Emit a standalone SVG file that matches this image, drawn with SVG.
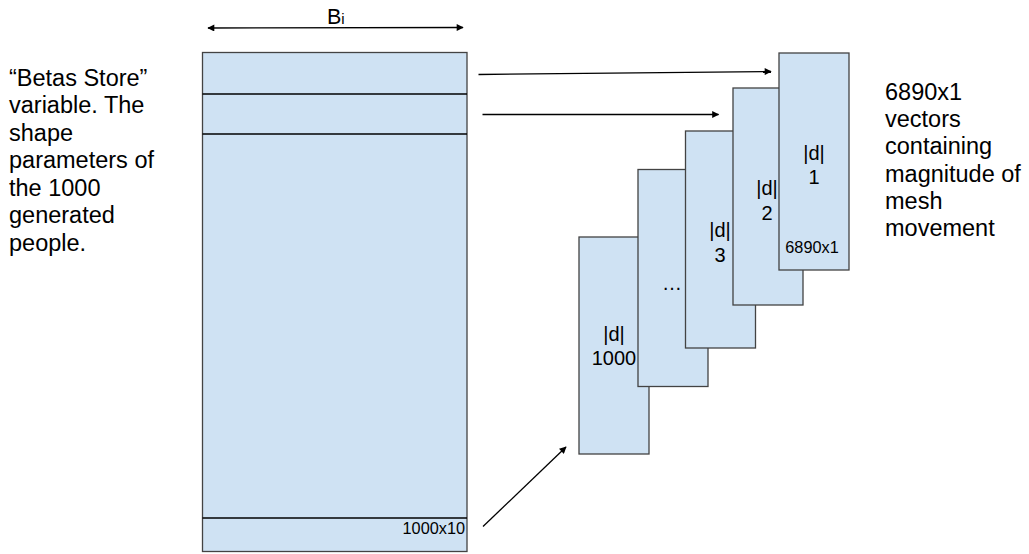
<svg xmlns="http://www.w3.org/2000/svg" width="1029" height="554" viewBox="0 0 1029 554">
  <defs>
    <marker id="head" viewBox="0 0 10 10" refX="9" refY="5" markerWidth="8" markerHeight="7" markerUnits="userSpaceOnUse" orient="auto">
      <path d="M0,0 L10,5 L0,10 z" fill="#000"/>
    </marker>
    <marker id="tail" viewBox="0 0 10 10" refX="1" refY="5" markerWidth="8" markerHeight="7" markerUnits="userSpaceOnUse" orient="auto">
      <path d="M10,0 L0,5 L10,10 z" fill="#000"/>
    </marker>
  </defs>
  <style>
    text { font-family: "Liberation Sans", Arial, sans-serif; fill: #000; }
    .note { font-size: 23.5px; }
    .lbl { font-size: 20px; text-anchor: middle; }
    .small { font-size: 16.3px; }
    .cell { fill: #cfe2f3; stroke: #434343; stroke-width: 1.3; }
    .sep { stroke: #000; stroke-width: 1.3; }
    .conn { stroke: #000; stroke-width: 1.3; fill: none; }
  </style>
  <rect width="1029" height="554" fill="#fff"/>

  <!-- matrix of shape parameters -->
  <g id="betas-store">
    <rect class="cell" x="202.5" y="52.5" width="264.5" height="499"/>
    <line class="sep" x1="202.5" y1="94" x2="467" y2="94"/>
    <line class="sep" x1="202.5" y1="134" x2="467" y2="134"/>
    <line class="sep" x1="202.5" y1="518" x2="467" y2="518"/>
    <text class="small" x="465" y="534" text-anchor="end">1000x10</text>
  </g>

  <!-- width dimension -->
  <g id="width-label">
    <line class="conn" x1="208" y1="28" x2="463" y2="27.5" marker-start="url(#tail)" marker-end="url(#head)"/>
    <text x="327" y="24" font-size="21.5">B<tspan font-size="15">i</tspan></text>
  </g>

  <g id="note-left">
    <text class="note" x="9" y="85.5">“Betas Store”</text>
    <text class="note" x="9" y="113">variable. The</text>
    <text class="note" x="9" y="140.5">shape</text>
    <text class="note" x="9" y="168">parameters of</text>
    <text class="note" x="9" y="195.5">the 1000</text>
    <text class="note" x="9" y="223">generated</text>
    <text class="note" x="9" y="250.5">people.</text>
  </g>

  <g id="note-right">
    <text class="note" x="885" y="100">6890x1</text>
    <text class="note" x="885" y="127.2">vectors</text>
    <text class="note" x="885" y="154.4">containing</text>
    <text class="note" x="885" y="181.6">magnitude of</text>
    <text class="note" x="885" y="208.8">mesh</text>
    <text class="note" x="885" y="236">movement</text>
  </g>

  <!-- stack of displacement vectors, back to front -->
  <g id="vec-1000">
    <rect class="cell" x="579" y="237" width="70" height="217"/>
    <text class="lbl" x="614" y="341">|d|</text>
    <text class="lbl" x="614" y="365">1000</text>
  </g>
  <g id="vec-dots">
    <rect class="cell" x="638" y="169.5" width="70" height="217"/>
    <text class="lbl" x="672" y="290">…</text>
  </g>
  <g id="vec-3">
    <rect class="cell" x="685.5" y="131" width="70" height="217"/>
    <text class="lbl" x="720" y="237">|d|</text>
    <text class="lbl" x="720" y="262">3</text>
  </g>
  <g id="vec-2">
    <rect class="cell" x="733" y="88" width="70" height="217"/>
    <text class="lbl" x="767" y="195">|d|</text>
    <text class="lbl" x="767" y="220">2</text>
  </g>
  <g id="vec-1">
    <rect class="cell" x="779" y="53" width="70" height="217"/>
    <text class="lbl" x="814" y="160">|d|</text>
    <text class="lbl" x="814" y="184">1</text>
    <text class="small" x="812" y="253" text-anchor="middle">6890x1</text>
  </g>

  <g id="connectors">
    <line class="conn" x1="478.5" y1="74.5" x2="771" y2="71.5" marker-end="url(#head)"/>
    <line class="conn" x1="482.5" y1="114.5" x2="718.5" y2="114.5" marker-end="url(#head)"/>
    <line class="conn" x1="483" y1="526.5" x2="566" y2="447" marker-end="url(#head)"/>
  </g>
</svg>
